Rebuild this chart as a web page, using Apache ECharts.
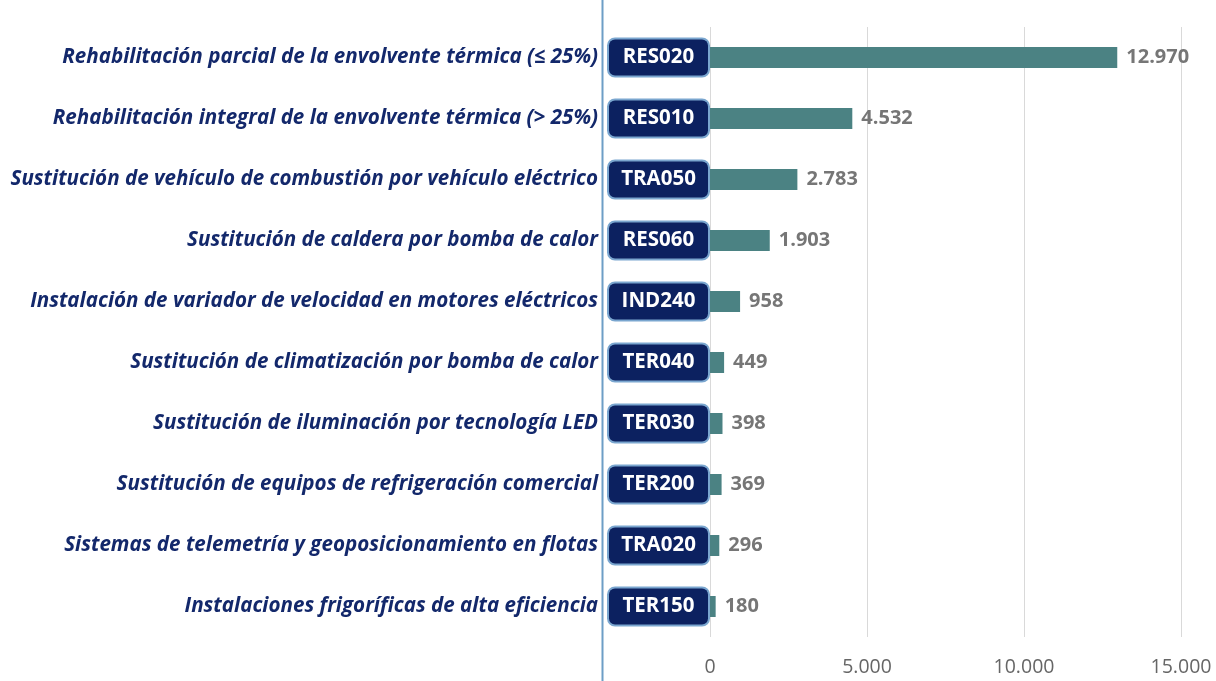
<!DOCTYPE html>
<html>
<head>
<meta charset="utf-8">
<script src="https://cdn.jsdelivr.net/npm/echarts@6/dist/echarts.min.js"></script>
<style>
  html, body { margin: 0; padding: 0; background: #fff; }
  #main { width: 1216px; height: 681px; }
</style>
</head>
<body>
<div id="main"></div>
<script>
// medidas (de mayor a menor ahorro)
const categories = [
  'Rehabilitación parcial de la envolvente térmica (≤ 25%)',
  'Rehabilitación integral de la envolvente térmica (> 25%)',
  'Sustitución de vehículo de combustión por vehículo eléctrico',
  'Sustitución de caldera por bomba de calor',
  'Instalación de variador de velocidad en motores eléctricos',
  'Sustitución de climatización por bomba de calor',
  'Sustitución de iluminación por tecnología LED',
  'Sustitución de equipos de refrigeración comercial',
  'Sistemas de telemetría y geoposicionamiento en flotas',
  'Instalaciones frigoríficas de alta eficiencia'
];
const codes = ['RES020', 'RES010', 'TRA050', 'RES060', 'IND240', 'TER040', 'TER030', 'TER200', 'TRA020', 'TER150'];
const values = [12970, 4532, 2783, 1903, 958, 449, 398, 369, 296, 180];
const xTicks = [0, 5000, 10000, 15000];

const fmt = v => String(v).replace(/\B(?=(\d{3})+(?!\d))/g, '.');

var myChart = echarts.init(document.getElementById('main'));
myChart.setOption({
  backgroundColor: '#ffffff',
  animation: false,
  grid: {
    left: 710,
    right: 35,
    top: 27,
    bottom: 44,
    containLabel: false,
    outerBoundsMode: 'none'
  },
  xAxis: {
    type: 'value',
    min: xTicks[0],
    max: xTicks[xTicks.length - 1],
    interval: 5000,
    axisLine: { show: false },
    axisTick: { show: false },
    splitLine: { lineStyle: { color: '#d9d9d9', width: 1 } },
    axisLabel: {
      color: '#666666',
      fontSize: 19.5,
      fontFamily: 'Open Sans',
      margin: 20,
      formatter: v => fmt(v)
    }
  },
  yAxis: {
    type: 'category',
    inverse: true,
    data: categories,
    axisLine: { show: false },
    axisTick: { show: false },
    axisLabel: {
      margin: 2,
      formatter: (value, idx) => '{name|' + value + '}{gap|}{code|' + codes[idx] + '}',
      rich: {
        name: {
          color: '#13286b',
          fontSize: 20.6,
          fontWeight: 'bold',
          fontStyle: 'italic',
          fontFamily: 'Open Sans'
        },
        gap: { width: 11 },
        code: {
          width: 99,
          height: 36,
          lineHeight: 36,
          align: 'center',
          color: '#ffffff',
          fontSize: 20.5,
          fontWeight: 'bold',
          fontFamily: 'Open Sans',
          backgroundColor: '#0c2160',
          borderColor: '#7aa6cf',
          borderWidth: 2,
          borderRadius: 6
        }
      }
    }
  },
  graphic: [{
    type: 'line',
    shape: { x1: 602.5, y1: 0, x2: 602.5, y2: 681 },
    style: { stroke: '#6d9ec6', lineWidth: 2 },
    z: 10
  }],
  series: [{
    type: 'bar',
    data: values,
    barWidth: 21,
    itemStyle: { color: '#4b8283' },
    label: {
      show: true,
      position: 'right',
      distance: 9,
      color: '#767676',
      fontSize: 20,
      fontWeight: 'bold',
      fontFamily: 'Open Sans',
      formatter: p => fmt(p.value)
    }
  }]
});
</script>
</body>
</html>
